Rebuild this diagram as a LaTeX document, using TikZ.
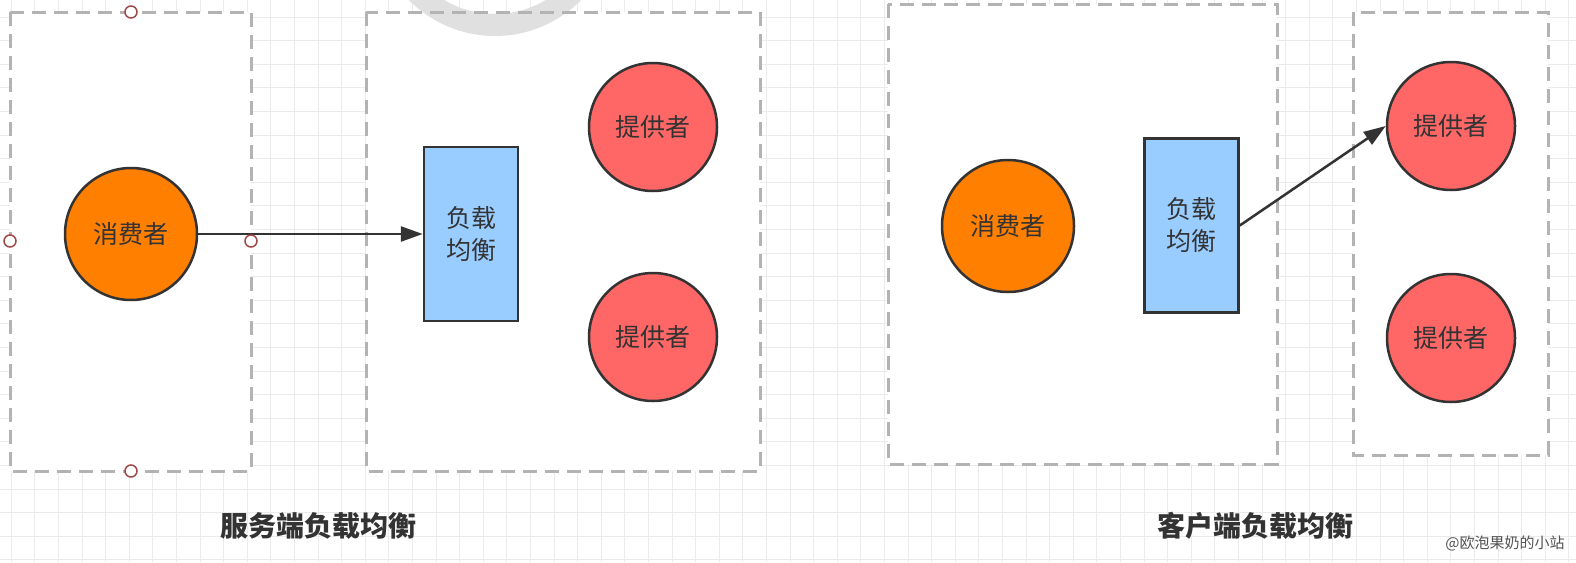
\documentclass[tikz,border=0pt]{standalone}
\usepackage{fontspec}
\newfontfamily\cjk{Noto Sans CJK SC}
\definecolor{lbline}{HTML}{333333}
\definecolor{lbdash}{HTML}{B3B3B3}
\definecolor{lbgrid}{HTML}{EBEBEB}
\definecolor{lbring}{HTML}{E0E0E0}
\definecolor{lborange}{HTML}{FF8000}
\definecolor{lbred}{HTML}{FF6666}
\definecolor{lbblue}{HTML}{99CCFF}
\definecolor{lbhandle}{HTML}{A04848}
\usetikzlibrary{arrows.meta,positioning}

\begin{document}
\begin{tikzpicture}[x=1pt,y=-1pt,
  lbzone/.style={draw=lbdash,line width=3pt,dash pattern=on 14pt off 8pt},
  lbconsumer/.style={circle,draw=lbline,line width=2.5pt,fill=lborange,minimum size=132pt,
    inner sep=0pt,font=\cjk\fontsize{25}{32}\selectfont,text=lbline},
  lbprovider/.style={circle,draw=lbline,line width=2.5pt,fill=lbred,minimum size=128pt,
    inner sep=0pt,font=\cjk\fontsize{25}{32}\selectfont,text=lbline},
  lbbalance/.style={rectangle,draw=lbline,line width=2.5pt,fill=lbblue,minimum width=94pt,
    minimum height=174pt,align=center,font=\cjk\fontsize{25}{32}\selectfont,text=lbline},
  lbflow/.style={-{Triangle[length=22pt,width=15pt]},draw=lbline,line width=2.5pt},
  lbgrip/.style={circle,draw=lbhandle,fill=white,line width=1.5pt,minimum size=12pt,inner sep=0pt},
  lbtitle/.style={font=\cjk\bfseries\fontsize{28}{32}\selectfont,text=lbline}
]
  \useasboundingbox (0,0) rectangle (1576,562);
  \clip (0,0) rectangle (1576,562);
  \fill[white] (0,0) rectangle (1576,562);
  % grid
  \foreach \i in {0,...,66}
    \draw[lbgrid,line width=1pt] ({11.3+23.6*\i},0) -- ({11.3+23.6*\i},562);
  \foreach \j in {1,...,24}
    \draw[lbgrid,line width=1pt] (0,{-6.6+23.6*\j}) -- (1576,{-6.6+23.6*\j});
  % zones
  \foreach \xa/\ya/\xb/\yb in {10/12/251/471,366/12/760/471,888/4/1277/464,1353/12/1548/455}
    \fill[white] (\xa,\ya) rectangle (\xb,\yb);
  \draw[lbring,line width=22pt] (495,-85) circle[radius=110pt];
  \foreach \xa/\ya/\xb/\yb in {10/12/251/471,366/12/760/471,888/4/1277/464,1353/12/1548/455}
    \draw[lbzone] (\xa,\ya) rectangle (\xb,\yb);

  % server side
  \node[lbconsumer] (srvconsumer) at (131,234) {消费者};
  \node[lbbalance] (srvbalance) at (471,234) {负载\\均衡};
  \node[lbprovider] (srvprovider1) at (653,127) {提供者};
  \node[lbprovider] (srvprovider2) at (653,337) {提供者};
  \draw[lbflow] (srvconsumer.east) -- (srvbalance.west);
  \foreach \hx/\hy in {131/12,10/241,251/241,131/471}
    \node[lbgrip] at (\hx,\hy) {};

  % client side
  \node[lbconsumer] (cliconsumer) at (1008,226) {消费者};
  \node[lbbalance] (clibalance) at (1191.5,225.5) {负载\\均衡};
  \node[lbprovider] (cliprovider1) at (1451,126) {提供者};
  \node[lbprovider] (cliprovider2) at (1451,338) {提供者};
  \draw[lbflow] (clibalance.east) -- (cliprovider1.west);

  % titles
  \node[lbtitle] (srvtitle) at (318,526) {服务端负载均衡};
  \node[lbtitle] (clititle) at (1255,526) {客户端负载均衡};
  \node[font=\cjk\fontsize{15}{18}\selectfont,text=lbline!85] (mark) at (1505,543) {@欧泡果奶的小站};
\end{tikzpicture}
\end{document}
